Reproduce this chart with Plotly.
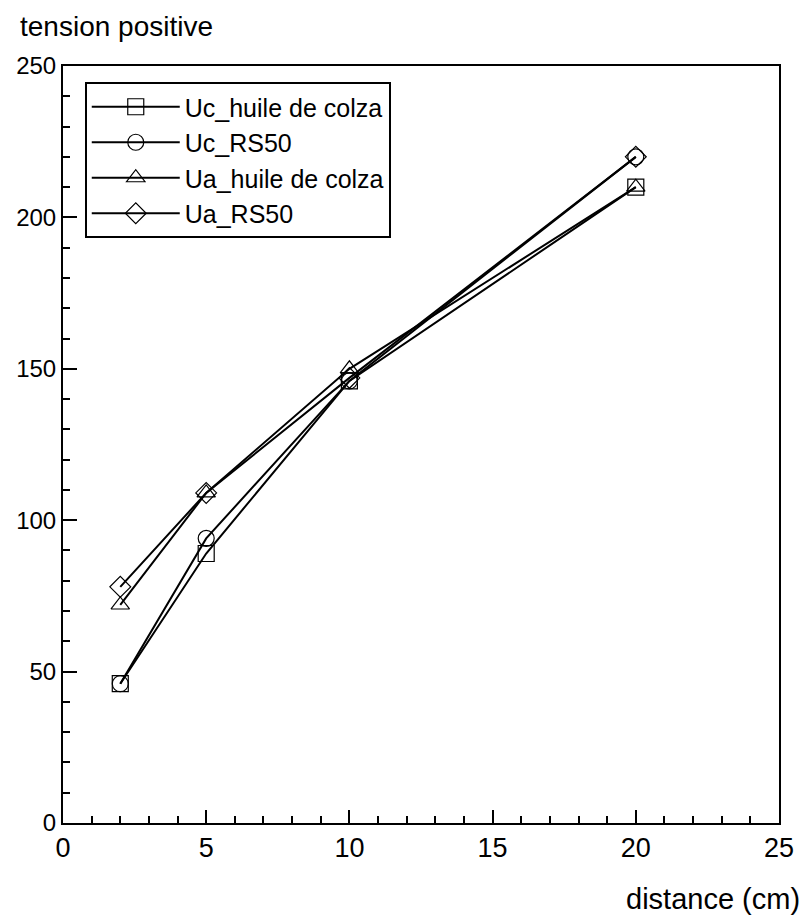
import plotly.graph_objects as go

distance = [2, 5, 10, 20]
series_names = ["Uc_huile de colza", "Uc_RS50", "Ua_huile de colza", "Ua_RS50"]
uc_huile = [46, 89, 146, 210]
uc_rs50 = [46, 94, 146, 220]
ua_huile = [72, 109, 150, 210]
ua_rs50 = [78, 109, 147, 220]
series_values = [uc_huile, uc_rs50, ua_huile, ua_rs50]
symbols = ["square-open", "circle-open", "triangle-up-open", "diamond-open"]
x_ticks = [0, 5, 10, 15, 20, 25]
y_ticks = [0, 50, 100, 150, 200, 250]

FONT = "Liberation Sans, Arial, sans-serif"

fig = go.Figure()
for name, vals, sym in zip(series_names, series_values, symbols):
    fig.add_trace(go.Scatter(
        x=distance, y=vals, name=name, mode="lines+markers",
        line=dict(color="black", width=2),
        marker=dict(symbol=sym, size=16, color="black", line=dict(color="black", width=1.2)),
    ))

fig.update_layout(
    width=806, height=919,
    margin=dict(l=63, r=19, t=66, b=96),
    paper_bgcolor="white", plot_bgcolor="white",
    font=dict(family=FONT, color="black", size=24),
    title=dict(text="tension positive", x=20/806, xanchor="left",
               y=1 - 26/919, yanchor="middle", xref="container", yref="container",
               font=dict(size=28, family=FONT, color="black")),
    showlegend=True,
    legend=dict(x=(85-63)/724, y=1 - (82-66)/757, xanchor="left", yanchor="top",
                bordercolor="black", borderwidth=2, bgcolor="white",
                font=dict(size=25, family=FONT, color="black"),
                itemwidth=88, tracegroupgap=0),
    annotations=[dict(text="distance (cm)", xref="paper", yref="paper",
                      x=(810-63)/724, y=(823-899)/757, xanchor="right", yanchor="middle",
                      showarrow=False, font=dict(size=29, family=FONT, color="black"))],
)

fig.update_xaxes(
    range=[0, 25], tickvals=x_ticks, ticktext=[str(v) for v in x_ticks],
    showgrid=False, zeroline=False,
    showline=True, linecolor="black", linewidth=2, mirror=True,
    ticks="inside", ticklen=13, tickwidth=2, tickcolor="black",
    minor=dict(dtick=1, ticks="inside", ticklen=7, tickwidth=2, tickcolor="black", showgrid=False),
    tickfont=dict(size=27, family=FONT, color="black"),
)
fig.update_yaxes(
    range=[0, 250], tickvals=y_ticks, ticktext=[str(v) for v in y_ticks],
    showgrid=False, zeroline=False,
    showline=True, linecolor="black", linewidth=2, mirror=True,
    ticks="inside", ticklen=14, tickwidth=2, tickcolor="black",
    minor=dict(dtick=10, ticks="inside", ticklen=7, tickwidth=2, tickcolor="black", showgrid=False),
    tickfont=dict(size=24, family=FONT, color="black"),
)

fig.write_html("out.html", config={"displayModeBar": False},
               post_script="document.body.style.margin='0';document.body.style.overflow='hidden';")
